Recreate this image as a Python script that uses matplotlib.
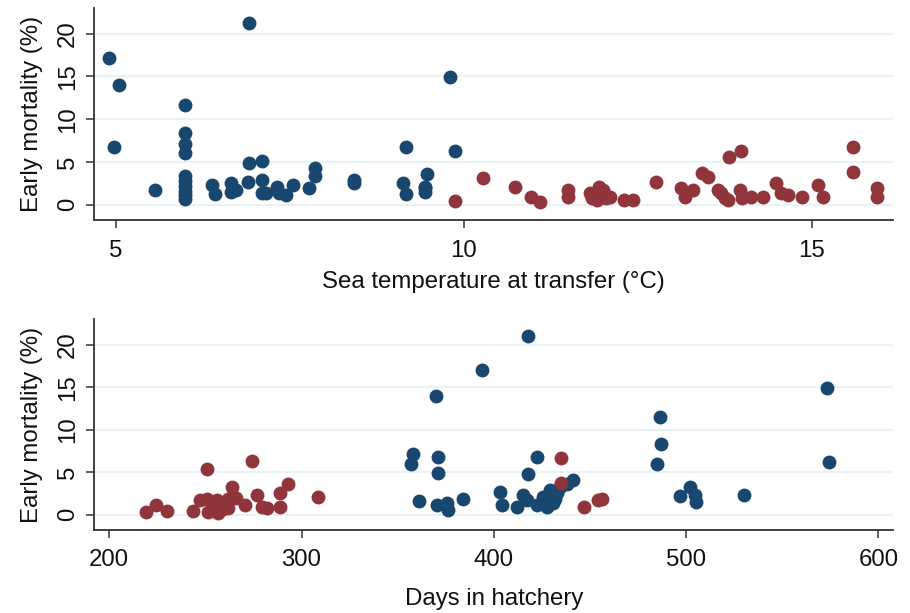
import matplotlib
matplotlib.use("Agg")
import matplotlib.pyplot as plt

plt.rcParams['font.family'] = ['Liberation Sans', 'DejaVu Sans']

# ---- top panel: sea temperature at transfer ----
temp_blue = [4.90, 5.04, 4.98, 6.92, 5.56,
             6.0, 6.0, 6.0, 6.0, 6.0, 6.0, 6.0, 6.0, 6.0, 6.0,
             6.38, 6.42, 6.65, 6.65, 6.73, 6.90, 6.92, 7.10, 7.10, 7.10, 7.16,
             7.31, 7.35, 7.44, 7.55, 7.77, 7.86, 7.86, 8.42, 8.42,
             9.81, 9.17, 9.88, 9.13, 9.17, 9.47, 9.44, 9.44, 9.44]
mort_temp_blue = [17.15, 14.05, 6.73, 21.2, 1.68,
                  11.6, 8.4, 7.1, 6.0, 3.4, 2.8, 2.2, 1.6, 1.1, 0.7,
                  2.3, 1.2, 2.57, 1.52, 1.7, 2.7, 4.83, 5.06, 2.88, 1.33, 1.33,
                  2.1, 1.33, 1.13, 2.3, 1.9, 4.25, 3.35, 2.88, 2.57,
                  14.94, 6.77, 6.27, 2.5, 1.2, 3.58, 2.1, 1.52, 1.9]

temp_red = [9.87, 10.28, 10.73, 10.96, 11.1, 11.5, 11.5, 11.81, 11.95, 11.98,
            12.05, 12.1, 11.92, 12.0, 11.85, 12.3, 12.43, 12.76, 13.13, 13.18,
            13.3, 13.42, 13.51, 13.65, 13.7, 13.75, 13.8, 13.82, 13.98, 13.97,
            14.0, 14.13, 14.3, 14.49, 14.56, 14.66, 14.86, 15.09, 15.16, 15.6,
            15.6, 15.94, 15.94]
mort_temp_red = [0.43, 3.15, 2.03, 0.93, 0.35, 1.71, 0.86, 1.4, 2.1, 0.93,
                 0.74, 0.93, 0.55, 1.7, 0.8, 0.55, 0.55, 2.7, 1.9, 0.93,
                 1.71, 3.74, 3.27, 1.71, 1.33, 0.74, 0.55, 5.6, 6.3, 1.71,
                 0.74, 0.86, 0.93, 2.5, 1.33, 1.13, 0.93, 2.3, 0.93, 6.77,
                 3.85, 1.9, 0.93]

# ---- bottom panel: days in hatchery ----
days_blue = [418, 394.1, 370.1, 358.2, 356.8, 370.9, 370.9, 361, 370.3, 375.5,
             376.4, 384.2, 403.3, 404.2, 422.4, 418, 412, 415.4, 417.2, 422.4,
             425.8, 429.3, 431, 434.5, 438, 441.4, 427.6, 430, 432, 433,
             486.2, 487.1, 485.1, 496.9, 502.1, 504.7, 505.2, 529.9, 573.3, 574.1]
mort_days_blue = [21.08, 17.08, 13.97, 7.16, 5.91, 6.77, 4.95, 1.63, 1.13, 1.33,
                  0.55, 1.83, 2.69, 1.13, 6.77, 4.75, 0.93, 2.3, 1.71, 1.13,
                  2.1, 2.88, 1.33, 3.27, 3.66, 4.05, 0.93, 2.2, 1.8, 2.6,
                  11.52, 8.33, 5.91, 2.18, 3.27, 2.3, 1.52, 2.3, 14.87, 6.19]

days_red = [218.9, 224.3, 230.2, 243.4, 251.0, 247.2, 250.7, 255.9, 251.5, 256.7,
            261.9, 263.7, 263.7, 259.3, 254, 258, 262, 266,
            274.1, 270.6, 276.7, 279.3, 281.9, 288.8, 293.1, 288.8, 308.7,
            435, 435, 447.1, 454.1, 456.2]
mort_days_red = [0.35, 1.13, 0.47, 0.47, 5.41, 1.71, 1.9, 1.71, 0.35, 0.16,
                 0.74, 3.27, 2.1, 1.33, 1.2, 0.6, 1.8, 2.0,
                 6.27, 1.13, 2.3, 0.93, 0.74, 2.57, 3.66, 0.86, 2.03,
                 6.7, 3.78, 0.86, 1.71, 1.9]

y_ticks = [0, 5, 10, 15, 20]
temp_ticks = [5, 10, 15]
days_ticks = [200, 300, 400, 500, 600]

BLUE = '#1a476f'
RED = '#90353b'
GRID = '#eaf2f3'
AX = '#333333'
FS = 17.3
MS = 100

fig = plt.figure(figsize=(9.10, 6.13), dpi=100)
ax1 = fig.add_axes([0.1036, 0.641, 0.8777, 0.346])
ax2 = fig.add_axes([0.1036, 0.1354, 0.8781, 0.3438])


def style(ax):
    for s in ['top', 'right']:
        ax.spines[s].set_visible(False)
    for s in ['left', 'bottom']:
        ax.spines[s].set_color(AX)
        ax.spines[s].set_linewidth(1.3)
    ax.set_yticks(y_ticks)
    ax.set_ylim(-1.8, 23)
    ax.yaxis.grid(True, color=GRID, linewidth=1.6)
    ax.set_axisbelow(True)
    ax.tick_params(axis='both', length=6, width=1.1, color=AX,
                   labelsize=FS, labelcolor='#111111')
    ax.tick_params(axis='y', pad=5)
    ax.tick_params(axis='x', pad=8)
    for lab in ax.get_yticklabels():
        lab.set_rotation(90)
        lab.set_va('center')
    ax.set_ylabel('Early mortality (%)', fontsize=FS, color='#111111', labelpad=10)


ax1.scatter(temp_blue, mort_temp_blue, s=MS, color=BLUE, linewidths=0, zorder=3)
ax1.scatter(temp_red, mort_temp_red, s=MS, color=RED, linewidths=0, zorder=3)
ax1.set_xlim(4.69, 16.17)
ax1.set_xticks(temp_ticks)
style(ax1)
ax1.set_xlabel('Sea temperature at transfer (°C)', fontsize=FS, color='#111111', labelpad=7)

ax2.scatter(days_blue, mort_days_blue, s=MS, color=BLUE, linewidths=0, zorder=3)
ax2.scatter(days_red, mort_days_red, s=MS, color=RED, linewidths=0, zorder=3)
ax2.set_xlim(192.2, 607.8)
ax2.set_xticks(days_ticks)
style(ax2)
ax2.set_xlabel('Days in hatchery', fontsize=FS, color='#111111', labelpad=12)

fig.savefig('out.png', dpi=100)
